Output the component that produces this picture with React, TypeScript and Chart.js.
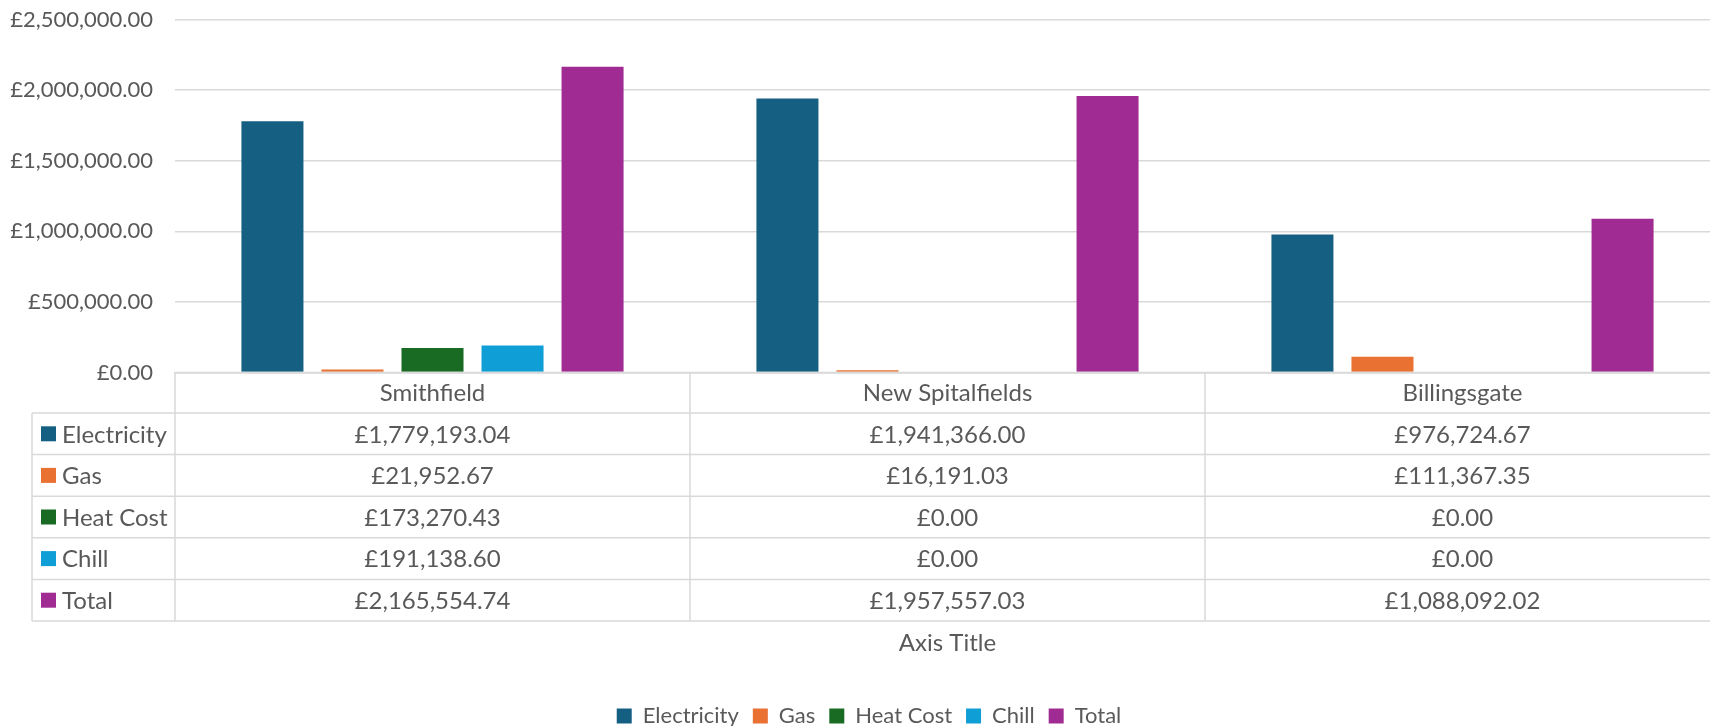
import React, { useEffect, useRef } from 'react';
import { Chart, registerables } from 'chart.js';

Chart.register(...registerables);

const categories = ['Smithfield', 'New Spitalfields', 'Billingsgate'];
const seriesNames = ['Electricity', 'Gas', 'Heat Cost', 'Chill', 'Total'];
const electricity = [1779193.04, 1941366.0, 976724.67];
const gas = [21952.67, 16191.03, 111367.35];
const heatCost = [173270.43, 0, 0];
const chill = [191138.6, 0, 0];
const total = [2165554.74, 1957557.03, 1088092.02];
const seriesColors = ['#156082', '#E97132', '#196B24', '#0F9ED5', '#A02B93'];
const yTicks = [0, 500000, 1000000, 1500000, 2000000, 2500000];
const axisTitle = 'Axis Title';

const FONT = 'Lato, "Open Sans", sans-serif';
const TEXT = '#595959';
const GRID = '#D9D9D9';
const W = 1738;
const H = 737;

const numFmt = new Intl.NumberFormat('en-GB', { minimumFractionDigits: 2, maximumFractionDigits: 2 });
const money = (v: number) => '£' + numFmt.format(v);

const tablePlugin = {
  id: 'dataTable',
  afterDraw(chart: any) {
    const { ctx, chartArea } = chart;
    const xs = chart.scales.x;
    const top = chartArea.bottom;
    const headerBottom = top + 40.5;
    const rowH = 41.6;
    const nRows = chart.data.datasets.length;
    const bottom = headerBottom + rowH * nRows;
    const keyLeft = 32;
    const left = chartArea.left;
    const right = chartArea.right;
    const centers = categories.map((_, i) => xs.getPixelForValue(i));
    const bounds = [left];
    for (let i = 0; i < centers.length - 1; i++) bounds.push((centers[i] + centers[i + 1]) / 2);
    bounds.push(right);

    ctx.save();
    ctx.strokeStyle = GRID;
    ctx.lineWidth = 1.5;
    const line = (x1: number, y1: number, x2: number, y2: number) => {
      ctx.beginPath();
      ctx.moveTo(x1, y1);
      ctx.lineTo(x2, y2);
      ctx.stroke();
    };
    line(left, top, right, top);
    for (let r = 0; r <= nRows; r++) {
      const y = headerBottom + r * rowH;
      line(keyLeft, y, right, y);
    }
    line(keyLeft, headerBottom, keyLeft, bottom);
    bounds.forEach((b) => line(b, top, b, bottom));

    ctx.font = `24px ${FONT}`;
    ctx.textBaseline = 'middle';
    ctx.fillStyle = TEXT;
    ctx.textAlign = 'center';
    categories.forEach((c, i) => ctx.fillText(c, centers[i], (top + headerBottom) / 2 + 1));

    chart.data.datasets.forEach((ds: any, r: number) => {
      const cy = headerBottom + rowH * (r + 0.5);
      ctx.fillStyle = ds.backgroundColor;
      ctx.fillRect(41, cy - 7.5, 15, 15);
      ctx.fillStyle = TEXT;
      ctx.textAlign = 'left';
      ctx.fillText(ds.label, 62, cy + 1);
      ctx.textAlign = 'center';
      ds.data.forEach((v: number, i: number) => ctx.fillText(money(v), centers[i], cy + 1));
    });
    ctx.restore();
  },
};

// Centre the legend on the whole chart width rather than the padded box
const legendShiftPlugin = {
  id: 'legendShift',
  afterLayout(chart: any) {
    const lg = chart.legend;
    if (!lg) return;
    const shift = chart.width / 2 - (lg.left + lg.right) / 2;
    lg.left += shift;
    lg.right += shift;
  },
};

export default function App() {
  const ref = useRef<HTMLCanvasElement | null>(null);

  useEffect(() => {
    document.body.style.margin = '0';
    const canvas = ref.current;
    if (!canvas) return;
    const seriesValues = [electricity, gas, heatCost, chill, total];
    const legendPad = 14;
    const legendFont = 22;
    const legendHeight = legendFont + legendPad + 10;
    const plotBottom = 372.5;
    const xHeight = H - legendHeight - plotBottom;
    const titleFont = 24;
    const titleCenter = 643;
    const titlePadBottom = H - legendHeight - titleCenter - (titleFont * 1.2) / 2;
    const plotLeft = 175;

    const chart = new Chart(canvas, {
      type: 'bar',
      data: {
        labels: categories,
        datasets: seriesNames.map((name, i) => ({
          label: name,
          data: seriesValues[i],
          backgroundColor: seriesColors[i],
          borderWidth: 0,
          barPercentage: 0.775,
          categoryPercentage: 0.777,
        })),
      },
      options: {
        responsive: false,
        animation: false,
        devicePixelRatio: 1,
        layout: { padding: { top: 19.5, right: 18, left: 0, bottom: 0 } },
        plugins: {
          legend: {
            position: 'bottom',
            labels: {
              boxWidth: 15,
              boxHeight: 15,
              padding: legendPad,
              color: TEXT,
              font: { family: FONT, size: legendFont },
            },
          },
          tooltip: { enabled: false },
        },
        scales: {
          x: {
            grid: { display: false, drawTicks: false },
            border: { display: true, color: GRID, width: 1.5 },
            ticks: { display: false },
            title: {
              display: true,
              text: axisTitle,
              color: TEXT,
              font: { family: FONT, size: titleFont },
              padding: { top: 0, bottom: titlePadBottom },
            },
            afterFit: (s: any) => {
              s.height = xHeight;
            },
          },
          y: {
            min: 0,
            max: 2500000,
            afterBuildTicks: (s: any) => {
              s.ticks = yTicks.map((v) => ({ value: v }));
            },
            ticks: {
              color: TEXT,
              font: { family: FONT, size: 22 },
              padding: 22,
              callback: (v: any) => money(Number(v)),
            },
            grid: { color: GRID, lineWidth: 1.5, drawTicks: false },
            border: { display: false },
            afterFit: (s: any) => {
              s.width = plotLeft;
              s.paddingTop = 0;
              s.paddingBottom = 0;
            },
          },
        },
      },
      plugins: [tablePlugin, legendShiftPlugin],
    } as any);
    return () => chart.destroy();
  }, []);

  return (
    <div style={{ position: 'fixed', left: 0, top: 0, width: 1710, height: 726, overflow: 'hidden', background: '#fff' }}>
      <canvas ref={ref} width={W} height={H} style={{ width: W, height: H, display: 'block' }} />
    </div>
  );
}
